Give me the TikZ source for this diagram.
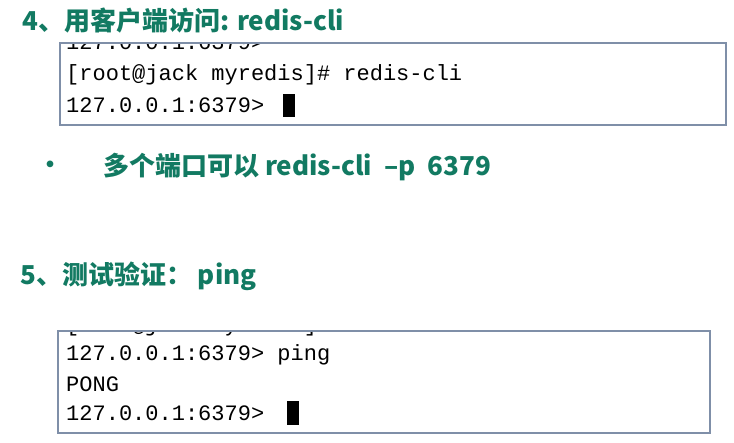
\documentclass[tikz,border=0pt]{standalone}
\usepackage{fontspec}
\newfontfamily\cjk{Noto Sans CJK SC}
\newfontfamily\term{Liberation Mono}
\definecolor{tgreen}{HTML}{127A62}
\definecolor{boxc}{HTML}{7F8FA8}
\tikzset{x=1pt,y=-1pt,
 title/.style={anchor=west,text=tgreen,font=\cjk\bfseries\fontsize{26}{28}\selectfont,inner sep=0},
 tline/.style={anchor=west,font=\term\fontsize{22}{24}\selectfont,inner sep=0},
 tbox/.style={draw=boxc,line width=1.2pt}}
\begin{document}
\begin{tikzpicture}
\useasboundingbox[fill=white] (0,0) rectangle (734,443);
\node[title] (t4) at (22,21) {4、用客户端访问: redis-cli};
\begin{scope}
\clip (60,43) rectangle (726,125);
\node[tline] (c0) at (66,42) {127.0.0.1:6379>};
\end{scope}
\draw[tbox] (60,43) rectangle (726,125);
\node[tline] (c1) at (66,75) {[root@jack myredis]\# redis-cli};
\node[tline] (c2) at (66,105) {127.0.0.1:6379>};
\fill (283,94) rectangle (295,117);
\node[anchor=west,text=tgreen,font=\cjk\bfseries\fontsize{24}{28}\selectfont,inner sep=0] (bul) at (38,167) {•};
\node[title] (t4b) at (103,167) {多个端口可以 redis-cli\ \ –p\ \ 6379};
\node[title] (t5) at (20,276) {5、测试验证：\ ping};
\begin{scope}
\clip (58,331) rectangle (710,433);
\node[tline] (d0) at (66,326) {[root@jack myredis]\# redis-cli};
\end{scope}
\draw[tbox] (58,331) rectangle (710,433);
\node[tline] (d1) at (66,355) {127.0.0.1:6379> ping};
\node[tline] (d2) at (66,384) {PONG};
\node[tline] (d3) at (66,413) {127.0.0.1:6379>};
\fill (287,401) rectangle (299,425);
\end{tikzpicture}
\end{document}
